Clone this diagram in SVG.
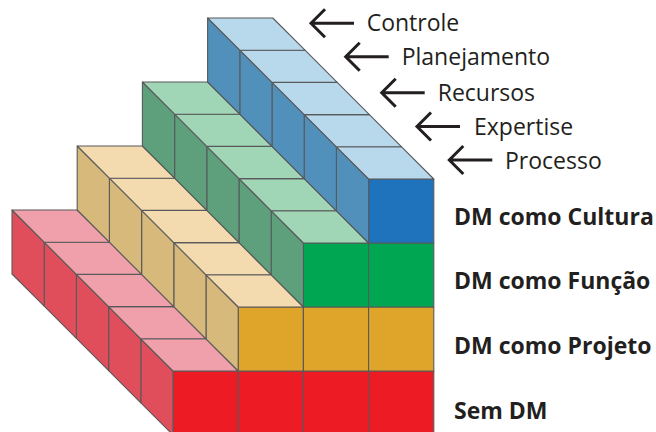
<svg xmlns="http://www.w3.org/2000/svg" xmlns:xlink="http://www.w3.org/1999/xlink" width="656" height="432" viewBox="0 0 656 432">
<style>
.f{stroke:#58595B;stroke-width:1.1;stroke-linejoin:round}
.rF{fill:#ED1C24}.rL{fill:#E04E5B}.rT{fill:#F0A0AB}
.oF{fill:#DFA52A}.oL{fill:#D7B97B}.oT{fill:#F3DBAF}
.gF{fill:#00A651}.gL{fill:#5DA07B}.gT{fill:#A0D5B5}
.bF{fill:#1F72BC}.bL{fill:#5190BA}.bT{fill:#B8D8EC}
.lbl{font-family:"Open Sans","Noto Sans","Liberation Sans",sans-serif;font-size:23px;fill:#231F20}
.b{font-weight:bold}
.arr{fill:none;stroke:#231F20;stroke-width:3}
</style>
<defs>
<rect id="fc" width="65.2" height="64"/>
<path id="lf" d="M0,0 V64 L-32.2,31.8 V-32.2 Z"/>
<path id="tf" d="M0,0 H65.2 L33,-32.2 H-32.2 Z"/>
<path id="ar" d="M0,0 H43 M14,-14 L0,0 L14,14"/>
</defs>

<g id="level-sem-dm" class="f">
<use href="#fc" class="rF" x="173" y="371"/>
<use href="#fc" class="rF" x="238.2" y="371"/>
<use href="#fc" class="rF" x="303.4" y="371"/>
<use href="#fc" class="rF" x="368.6" y="371"/>
<use href="#lf" class="rL" x="173" y="371"/>
<use href="#lf" class="rL" x="140.8" y="338.8"/>
<use href="#lf" class="rL" x="108.6" y="306.6"/>
<use href="#lf" class="rL" x="76.4" y="274.4"/>
<use href="#lf" class="rL" x="44.2" y="242.2"/>
<use href="#tf" class="rT" x="173" y="371"/>
<use href="#tf" class="rT" x="140.8" y="338.8"/>
<use href="#tf" class="rT" x="108.6" y="306.6"/>
<use href="#tf" class="rT" x="76.4" y="274.4"/>
<use href="#tf" class="rT" x="44.2" y="242.2"/>
</g>

<g id="level-projeto" class="f">
<use href="#fc" class="oF" x="238.2" y="307"/>
<use href="#fc" class="oF" x="303.4" y="307"/>
<use href="#fc" class="oF" x="368.6" y="307"/>
<use href="#lf" class="oL" x="238.2" y="307"/>
<use href="#lf" class="oL" x="206" y="274.8"/>
<use href="#lf" class="oL" x="173.8" y="242.6"/>
<use href="#lf" class="oL" x="141.6" y="210.4"/>
<use href="#lf" class="oL" x="109.4" y="178.2"/>
<use href="#tf" class="oT" x="238.2" y="307"/>
<use href="#tf" class="oT" x="206" y="274.8"/>
<use href="#tf" class="oT" x="173.8" y="242.6"/>
<use href="#tf" class="oT" x="141.6" y="210.4"/>
<use href="#tf" class="oT" x="109.4" y="178.2"/>
</g>

<g id="level-funcao" class="f">
<use href="#fc" class="gF" x="303.4" y="243"/>
<use href="#fc" class="gF" x="368.6" y="243"/>
<use href="#lf" class="gL" x="303.4" y="243"/>
<use href="#lf" class="gL" x="271.2" y="210.8"/>
<use href="#lf" class="gL" x="239" y="178.6"/>
<use href="#lf" class="gL" x="206.8" y="146.4"/>
<use href="#lf" class="gL" x="174.6" y="114.2"/>
<use href="#tf" class="gT" x="303.4" y="243"/>
<use href="#tf" class="gT" x="271.2" y="210.8"/>
<use href="#tf" class="gT" x="239" y="178.6"/>
<use href="#tf" class="gT" x="206.8" y="146.4"/>
<use href="#tf" class="gT" x="174.6" y="114.2"/>
</g>

<g id="level-cultura" class="f">
<use href="#fc" class="bF" x="368.6" y="179"/>
<use href="#lf" class="bL" x="368.6" y="179"/>
<use href="#lf" class="bL" x="336.4" y="146.8"/>
<use href="#lf" class="bL" x="304.2" y="114.6"/>
<use href="#lf" class="bL" x="272" y="82.4"/>
<use href="#lf" class="bL" x="239.8" y="50.2"/>
<use href="#tf" class="bT" x="368.6" y="179"/>
<use href="#tf" class="bT" x="336.4" y="146.8"/>
<use href="#tf" class="bT" x="304.2" y="114.6"/>
<use href="#tf" class="bT" x="272" y="82.4"/>
<use href="#tf" class="bT" x="239.8" y="50.2"/>
</g>

<g id="connectors" class="arr">
<use href="#ar" x="311" y="23.3"/>
<use href="#ar" x="345.7" y="56.7"/>
<use href="#ar" x="381.7" y="92.7"/>
<use href="#ar" x="417" y="126.5"/>
<use href="#ar" x="449.3" y="160"/>
</g>

<g id="label-controle"><text class="lbl" x="366.7" y="30.8">Controle</text></g>
<g id="label-planejamento"><text class="lbl" x="401.7" y="64.8">Planejamento</text></g>
<g id="label-recursos"><text class="lbl" x="437.7" y="101.3">Recursos</text></g>
<g id="label-expertise"><text class="lbl" x="474" y="135.3">Expertise</text></g>
<g id="label-processo"><text class="lbl" x="505" y="168.8">Processo</text></g>

<g id="label-cultura"><text class="lbl b" x="454" y="224.5">DM como Cultura</text></g>
<g id="label-funcao"><text class="lbl b" x="454" y="288.9">DM como Função</text></g>
<g id="label-projeto"><text class="lbl b" x="454" y="353.7">DM como Projeto</text></g>
<g id="label-sem-dm"><text class="lbl b" x="454" y="419.2">Sem DM</text></g>
</svg>
